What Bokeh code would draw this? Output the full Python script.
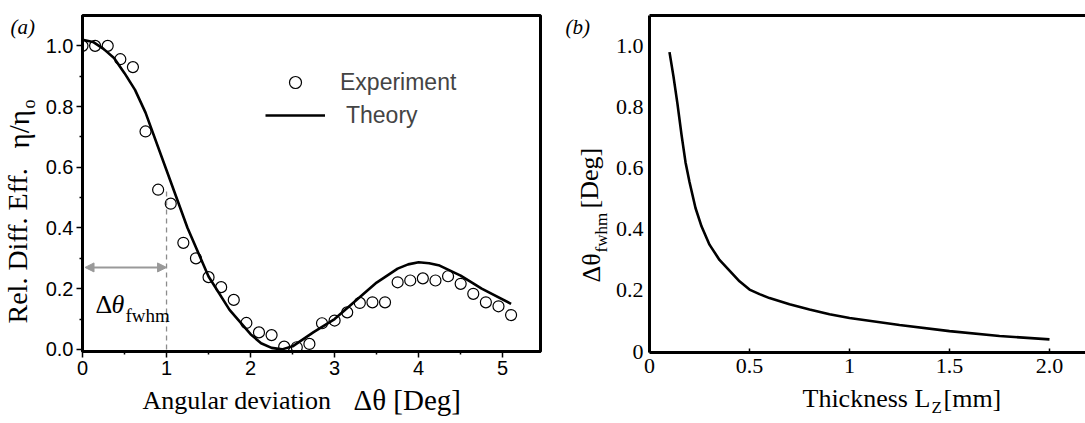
import math
from bokeh.plotting import figure
from bokeh.layouts import row, column
from bokeh.models import (Range1d, Legend, LegendItem, Arrow, NormalHead,
                          LinearAxis, FixedTicker)
from bokeh.core.properties import value
from bokeh.embed import file_html
from bokeh.resources import INLINE

# ---------------- data ----------------
exp_x = [0.0, 0.15, 0.3, 0.45, 0.6, 0.75, 0.9, 1.05, 1.2, 1.35, 1.5, 1.65, 1.8, 1.95,
         2.1, 2.25, 2.4, 2.55, 2.7, 2.85, 3.0, 3.15, 3.3, 3.45, 3.6, 3.75, 3.9, 4.05,
         4.2, 4.35, 4.5, 4.65, 4.8, 4.95, 5.1]
exp_y = [1.0, 1.0, 1.0, 0.956, 0.93, 0.718, 0.526, 0.48, 0.351, 0.30, 0.238, 0.205,
         0.163, 0.087, 0.056, 0.047, 0.009, 0.007, 0.018, 0.086, 0.095, 0.122, 0.153,
         0.155, 0.155, 0.221, 0.227, 0.234, 0.227, 0.241, 0.216, 0.183, 0.155, 0.142, 0.113]

theory_x = [0.0, 0.125, 0.25, 0.375, 0.5, 0.625, 0.75, 1.0, 1.25, 1.5, 1.75, 2.0, 2.125,
            2.25, 2.375, 2.5, 2.75, 3.0, 3.25, 3.5, 3.75, 3.875, 4.0, 4.125, 4.25, 4.5,
            4.75, 5.1]
theory_y = [1.02, 1.013, 0.99, 0.96, 0.91, 0.855, 0.78, 0.59, 0.40, 0.24, 0.13, 0.05, 0.02,
            0.005, 0.0, 0.01, 0.057, 0.10, 0.16, 0.22, 0.266, 0.28, 0.287, 0.284, 0.276,
            0.243, 0.20, 0.15]

thick_x = [0.10, 0.12, 0.14, 0.16, 0.18, 0.20, 0.23, 0.26, 0.30, 0.35, 0.40, 0.45, 0.50,
           0.55, 0.60, 0.70, 0.80, 0.90, 1.00, 1.25, 1.50, 1.75, 2.00]
fwhm_y = [0.98, 0.90, 0.81, 0.71, 0.62, 0.555, 0.47, 0.41, 0.35, 0.30, 0.265, 0.23, 0.203,
          0.188, 0.175, 0.155, 0.138, 0.122, 0.110, 0.087, 0.067, 0.051, 0.040]

a_xticks = [0, 1, 2, 3, 4, 5]
a_xminor = [0.5, 1.5, 2.5, 3.5, 4.5]
a_yticks = [0.0, 0.2, 0.4, 0.6, 0.8, 1.0]
a_ylabels = ["0.0", "0.2", "0.4", "0.6", "0.8", "1.0"]
a_yminor = [0.1, 0.3, 0.5, 0.7, 0.9]
b_xticks = [0, 0.5, 1, 1.5, 2]
b_xlabels = ["0", "0.5", "1", "1.5", "2.0"]
b_yticks = [0, 0.2, 0.4, 0.6, 0.8, 1.0]
b_ylabels = ["0", "0.2", "0.4", "0.6", "0.8", "1.0"]

SANS = "Liberation Sans"
SERIF = "Liberation Serif"
H_MAIN = 383
H_STRIP = 423 - H_MAIN
K = 0.35   # baseline correction (fraction of font size)


def strip(w, h, top=0, bottom=0):
    s = figure(width=w, height=h, output_backend="svg", toolbar_location=None,
               x_range=Range1d(0, w), y_range=Range1d(0, h - top - bottom),
               x_axis_type=None, y_axis_type=None,
               min_border_left=0, min_border_right=0, min_border_top=top,
               min_border_bottom=bottom)
    s.xgrid.visible = False
    s.ygrid.visible = False
    s.outline_line_color = None
    s.background_fill_color = "white"
    s.border_fill_color = "white"
    return s


def place(p, fx, fy, px, py, text, size, style="normal", rot=False, font=SERIF):
    """px, py: wanted screen position of the text's baseline start."""
    if rot:
        px -= K * size
    else:
        py -= K * size
    p.text(x=[fx(px)], y=[fy(py)], text=[text], text_font=value(font),
           text_font_size=value(f"{size}px"), text_font_style=style,
           text_color="black", angle=(math.pi / 2 if rot else 0.0),
           text_baseline="alphabetic", text_align="left")


# ---------------- panel (a) ----------------
A_YW = 39
AX0, AX1, AY0, AY1 = 0.0, 5.45, -0.007, 1.1
A_L, A_R, A_T, A_B = 82, 540, 15, 351

def ax(px):
    return AX0 + (px - A_L) / (A_R - A_L) * (AX1 - AX0)

def ay(py):
    return AY0 + (A_B - py) / (A_B - A_T) * (AY1 - AY0)

p1 = figure(width=545 - A_YW, height=H_MAIN, output_backend="svg", toolbar_location=None,
            x_range=Range1d(AX0, AX1), y_range=Range1d(AY0, AY1),
            min_border_left=A_L - A_YW, min_border_right=545 - A_R, min_border_top=A_T,
            min_border_bottom=H_MAIN - A_B)
p1.xgrid.visible = False
p1.ygrid.visible = False
p1.outline_line_color = "black"
p1.outline_line_width = 3
p1.background_fill_color = "white"
p1.border_fill_color = "white"

p1.xaxis.ticker = FixedTicker(ticks=a_xticks, minor_ticks=a_xminor)
p1.yaxis.ticker = FixedTicker(ticks=a_yticks, minor_ticks=a_yminor)
p1.yaxis.major_label_overrides = {t: l for t, l in zip(a_yticks, a_ylabels)}
for axis in (p1.xaxis, p1.yaxis):
    axis.axis_line_width = 3
    axis.major_tick_line_width = 1.5
    axis.minor_tick_line_width = 1.5
    axis.major_tick_out = 6
    axis.major_tick_in = 0
    axis.minor_tick_out = 3
    axis.minor_tick_in = 0
    axis.axis_label_standoff = 0
    axis.major_label_text_font = SANS
    axis.major_label_text_font_size = "20px"
    axis.major_label_text_color = "black"
p1.xaxis.major_label_standoff = 3
p1.yaxis.major_label_standoff = 3

theory_r = p1.line(theory_x, theory_y, line_color="black", line_width=2.6)
exp_r = p1.scatter(exp_x, exp_y, marker="circle", size=11, fill_color=None,
                   line_color="black", line_width=1.2)

# fwhm marker
p1.segment(x0=[1.0], y0=[0.0], x1=[1.0], y1=[0.53], line_color="#8c8c8c",
           line_width=1.3, line_dash="5 4")
p1.add_layout(Arrow(x_start=0.03, y_start=0.27, x_end=1.0, y_end=0.27,
                    line_color="#999999", line_width=2,
                    start=NormalHead(size=9, fill_color="#999999", line_color="#999999"),
                    end=NormalHead(size=9, fill_color="#999999", line_color="#999999")))
place(p1, ax, ay, 95, 313, "Δ", 26)
place(p1, ax, ay, 111, 313, "θ", 26, style="italic")
place(p1, ax, ay, 125, 322, "fwhm", 19)

legend = Legend(items=[LegendItem(label="Experiment", renderers=[exp_r]),
                       LegendItem(label=" Theory", renderers=[theory_r])],
                location=(265 - A_L, A_B - (67 + 63)), glyph_width=60, glyph_height=30,
                label_height=30, spacing=3, label_standoff=15, padding=0, margin=0,
                border_line_color=None, background_fill_alpha=0,
                label_text_font=SANS, label_text_font_size="23px")
p1.add_layout(legend, "center")

# y label strip (a): same vertical borders as p1, so its frame spans y 15..351
sa_y = strip(A_YW, H_MAIN, top=A_T, bottom=H_MAIN - A_B)
fx_ay = lambda px: px
fy_ay = lambda py: A_B - py
place(sa_y, fx_ay, fy_ay, 10, 34, "(a)", 21, style="italic")
place(sa_y, fx_ay, fy_ay, 27, 323, "Rel. Diff. Eff.", 28, rot=True)
place(sa_y, fx_ay, fy_ay, 29, 148, "η/η", 29, rot=True)
place(sa_y, fx_ay, fy_ay, 35, 108, "o", 18, rot=True)

# x label strip (a)
sa_x = strip(545, H_STRIP)
fx_ax = lambda px: px
fy_ax = lambda py: 423 - py
place(sa_x, fx_ax, fy_ax, 142, 409, "Angular deviation", 26)
place(sa_x, fx_ax, fy_ax, 353, 410, "Δθ [Deg]", 29)

# ---------------- panel (b) ----------------
OFF = 545
B_YW = 66
BX0, BX1, BY0, BY1 = 0.0, 2.18, -0.003, 1.1
B_L, B_R, B_T, B_B = 649, 1085, 15, 352

p2 = figure(width=540 - B_YW, height=H_MAIN, output_backend="svg", toolbar_location=None,
            x_range=Range1d(BX0, BX1), y_range=Range1d(BY0, BY1),
            min_border_left=B_L - OFF - B_YW, min_border_right=0, min_border_top=B_T,
            min_border_bottom=H_MAIN - B_B)
p2.xgrid.visible = False
p2.ygrid.visible = False
p2.outline_line_color = None
p2.background_fill_color = "white"
p2.border_fill_color = "white"

p2.xaxis.ticker = FixedTicker(ticks=b_xticks, minor_ticks=[])
p2.yaxis.ticker = FixedTicker(ticks=b_yticks, minor_ticks=[])
p2.xaxis.major_label_overrides = {t: l for t, l in zip(b_xticks, b_xlabels)}
p2.yaxis.major_label_overrides = {t: l for t, l in zip(b_yticks, b_ylabels)}
for axis in (p2.xaxis, p2.yaxis):
    axis.axis_line_width = 3
    axis.axis_label_standoff = 0
    axis.major_label_text_font = SERIF
    axis.major_label_text_font_size = "22px"
    axis.major_label_text_color = "black"
    axis.minor_tick_line_color = None
    axis.minor_tick_out = 0
    axis.minor_tick_in = 0
p2.xaxis.major_tick_in = 4
p2.xaxis.major_tick_out = 0
p2.xaxis.major_tick_line_width = 1.5
p2.xaxis.major_label_standoff = 6
p2.yaxis.major_tick_line_color = None
p2.yaxis.major_tick_out = 0
p2.yaxis.major_tick_in = 0
p2.yaxis.major_label_standoff = 6

top_axis = LinearAxis(axis_line_width=3, major_tick_line_color=None,
                      minor_tick_line_color=None, major_tick_out=0, minor_tick_out=0,
                      major_label_standoff=0, axis_label_standoff=0,
                      major_label_text_font_size="0px", major_label_text_alpha=0)
p2.add_layout(top_axis, "above")

p2.line(thick_x, fwhm_y, line_color="black", line_width=2.6)

# y label strip (b)
sb_y = strip(B_YW, H_MAIN, top=B_T, bottom=H_MAIN - B_B)
fx_by = lambda px: px - OFF
fy_by = lambda py: B_B - py
place(sb_y, fx_by, fy_by, 565, 34, "(b)", 21, style="italic")
place(sb_y, fx_by, fy_by, 600, 282, "Δθ", 26, rot=True)
place(sb_y, fx_by, fy_by, 607, 252, "fwhm", 17, rot=True)
place(sb_y, fx_by, fy_by, 598, 208, "[Deg]", 26, rot=True)

# x label strip (b)
sb_x = strip(540, H_STRIP)
fx_bx = lambda px: px - OFF
fy_bx = lambda py: 423 - py
place(sb_x, fx_bx, fy_bx, 802, 407, "Thickness L", 26)
place(sb_x, fx_bx, fy_bx, 931, 413, "Z", 17)
place(sb_x, fx_bx, fy_bx, 943, 407, "[mm]", 26)

layout = row(column(row(sa_y, p1), sa_x), column(row(sb_y, p2), sb_x))
open("out.html", "w").write(file_html(layout, INLINE))
